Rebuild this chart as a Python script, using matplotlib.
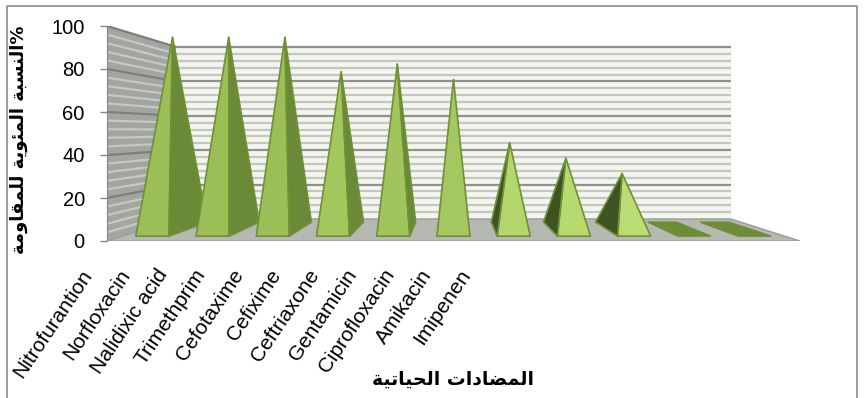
import re
import numpy as np
import matplotlib
matplotlib.use('Agg')
import matplotlib.pyplot as plt
from matplotlib.patches import Polygon
from matplotlib.lines import Line2D

# 数据
antibiotics = ['Nitrofurantion', 'Norfloxacin', 'Nalidixic acid', 'Trimethprim',
               'Cefotaxime', 'Cefixime', 'Ceftriaxone', 'Gentamicin',
               'Ciprofloxacin', 'Amikacin', 'Imipenen']
resistance = [100, 100, 100, 82, 86, 78, 45, 37, 29, 0, 0]
y_ticks = [0, 20, 40, 60, 80, 100]
y_title = 'النسبة المئوية للمقاومة%'
x_title = 'المضادات الحياتية'

# 三维效果参数
PERSP = 0.2          # 最后面缩小的比例
Y_C = 51.2           # 透视中心（数值坐标）
HALF_W = 0.275       # 金字塔半宽（类别单位）
Z0, Z1 = 0.22, 0.86  # 金字塔前后深度
ZM = (Z0 + Z1) / 2

# 阿拉伯字母的显示形式: 独立, 词尾, 词首, 词中
FORMS = {
    'ا': (0xFE8D, 0xFE8E, None, None),
    'ب': (0xFE8F, 0xFE90, 0xFE91, 0xFE92),
    'ة': (0xFE93, 0xFE94, None, None),
    'ت': (0xFE95, 0xFE96, 0xFE97, 0xFE98),
    'ح': (0xFEA1, 0xFEA2, 0xFEA3, 0xFEA4),
    'د': (0xFEA9, 0xFEAA, None, None),
    'س': (0xFEB1, 0xFEB2, 0xFEB3, 0xFEB4),
    'ض': (0xFEBD, 0xFEBE, 0xFEBF, 0xFEC0),
    'ق': (0xFED5, 0xFED6, 0xFED7, 0xFED8),
    'ل': (0xFEDD, 0xFEDE, 0xFEDF, 0xFEE0),
    'م': (0xFEE1, 0xFEE2, 0xFEE3, 0xFEE4),
    'ن': (0xFEE5, 0xFEE6, 0xFEE7, 0xFEE8),
    'و': (0xFEED, 0xFEEE, None, None),
    'ي': (0xFEF1, 0xFEF2, 0xFEF3, 0xFEF4),
    'ئ': (0xFE89, 0xFE8A, 0xFE8B, 0xFE8C),
}


def shape_arabic(word):
    out = []
    for k, ch in enumerate(word):
        if ch not in FORMS:
            out.append(ch)
            continue
        iso, fin, ini, med = FORMS[ch]
        prev = word[k - 1] if k > 0 else ''
        nxt = word[k + 1] if k + 1 < len(word) else ''
        join_prev = prev in FORMS and FORMS[prev][2] is not None
        join_next = ini is not None and nxt in FORMS
        if join_prev and join_next:
            code = med
        elif join_prev:
            code = fin
        elif join_next:
            code = ini
        else:
            code = iso
        out.append(chr(code))
    return ''.join(out)


def visual(text):
    """matplotlib 不做阿拉伯文连写和从右到左排版，这里手动处理"""
    runs = re.findall(r'[\u0600-\u06FF ]+|[^\u0600-\u06FF ]+', text)
    parts = []
    for r in runs:
        if re.search(r'[\u0600-\u06FF]', r):
            parts.append(shape_arabic(r)[::-1])
        else:
            parts.append(r)
    return ''.join(parts)


n = len(antibiotics)
X_C = n / 2


def proj(x, y, z):
    s = 1 - PERSP * z
    return (X_C + (x - X_C) * s, Y_C + (y - Y_C) * s)


def signed_area(pts):
    pts = np.asarray(pts)
    x, y = pts[:, 0], pts[:, 1]
    return 0.5 * np.sum(x * np.roll(y, -1) - np.roll(x, -1) * y)


def mix(c1, c2, t):
    c1 = np.array(matplotlib.colors.to_rgb(c1))
    c2 = np.array(matplotlib.colors.to_rgb(c2))
    return tuple(c1 + (c2 - c1) * t)


fig = plt.figure(figsize=(8.65, 3.98), dpi=100)
ax = fig.add_axes([107 / 865, (398 - 241) / 398, 693 / 865, 215 / 398])
ax.set_xlim(0, n)
ax.set_ylim(0, 100)

# 侧墙
side = [proj(0, 0, 0), proj(0, 100, 0), proj(0, 100, 1), proj(0, 0, 1)]
ax.add_patch(Polygon(side, closed=True, facecolor='#a3a5a0', edgecolor='none', zorder=1))
# 后墙
back = [proj(0, 0, 1), proj(n, 0, 1), proj(n, 100, 1), proj(0, 100, 1)]
ax.add_patch(Polygon(back, closed=True, facecolor='#f3f5ee', edgecolor='none', zorder=1))
# 底面
floor = [proj(0, 0, 0), proj(n, 0, 0), proj(n, 0, 1), proj(0, 0, 1)]
ax.add_patch(Polygon(floor, closed=True, facecolor='#b6b8b2', edgecolor='#9a9c98',
                     linewidth=1, zorder=2))
fx, fy = zip(proj(0, -0.9, 0), proj(n, -0.9, 0))
ax.plot(fx, fy, color='#8a8a8a', lw=2, zorder=2, solid_capstyle='butt')

# 墙上的条纹和网格线
for v in range(4, 101, 4):
    major = v % 20 == 0
    c_back = '#8f918c' if major else '#c4c6c0'
    c_side = '#7d7f7b' if major else '#c6c8c3'
    bx, by = zip(proj(0, v, 1), proj(n, v, 1))
    ax.plot(bx, by, color=c_back, lw=1.6, zorder=1.5, solid_capstyle='butt')
    sx, sy = zip(proj(0, v, 0), proj(0, v, 1))
    ax.plot(sx, sy, color=c_side, lw=1.6, zorder=1.5, solid_capstyle='butt')

# 金字塔，从两边往中间画
edge_c = '#6f9035'
order = sorted(range(n), key=lambda i: -abs(i + 0.5 - X_C))
for i in order:
    xc = i + 0.5
    v = resistance[i]
    A = proj(xc - HALF_W, 0, Z0)
    B = proj(xc + HALF_W, 0, Z0)
    C = proj(xc + HALF_W, 0, Z1)
    D = proj(xc - HALF_W, 0, Z1)
    if v <= 0:
        ax.add_patch(Polygon([A, B, C, D], closed=True, facecolor='#6d8d36',
                             edgecolor='#6d8d36', linewidth=1, zorder=3))
        continue
    P = proj(xc, v, ZM)
    front_c = mix('#9bbf56', '#c6e97f', 1 - v / 100)
    faces = [([A, B, P], front_c),
             ([B, C, P], '#6a8a38'),
             ([D, A, P], '#3f5224')]
    for pts, col in faces:
        if signed_area(pts) > 0:
            ax.add_patch(Polygon(pts, closed=True, facecolor=col, edgecolor=edge_c,
                                 linewidth=1.2, joinstyle='round', zorder=3))

# 坐标轴
for s in ['top', 'right', 'bottom']:
    ax.spines[s].set_visible(False)
ax.spines['left'].set_color('#868686')
ax.set_xticks([])
ax.set_yticks(y_ticks)
ax.tick_params(axis='y', length=5, width=1, color='#868686', pad=11,
               labelsize=14.5, labelcolor='black')
for lab in ax.get_yticklabels():
    lab.set_family('Liberation Sans')

# 类别标签
label_x0, label_step = -0.3, 0.6
for i, name in enumerate(antibiotics):
    ax.text(label_x0 + label_step * i, -0.14, name, rotation=56,
            rotation_mode='anchor', ha='right', va='center', fontsize=15,
            family='Liberation Sans', transform=ax.get_xaxis_transform(),
            clip_on=False)

fig.text(19 / 865, 1 - 140 / 398, visual(y_title), rotation=90, ha='center',
         va='center', fontsize=13, fontweight='bold', family='DejaVu Sans')
fig.text(453 / 865, 1 - 379 / 398, visual(x_title), ha='center', va='center',
         fontsize=13.5, fontweight='bold', family='DejaVu Sans')

# 外框
fig.add_artist(Line2D([7 / 865, 7 / 865, 857 / 865, 857 / 865],
                      [0, 1 - 6 / 398, 1 - 6 / 398, 0],
                      transform=fig.transFigure, color='#8c8c8c', lw=1.2))

fig.savefig('out.png', dpi=100)
